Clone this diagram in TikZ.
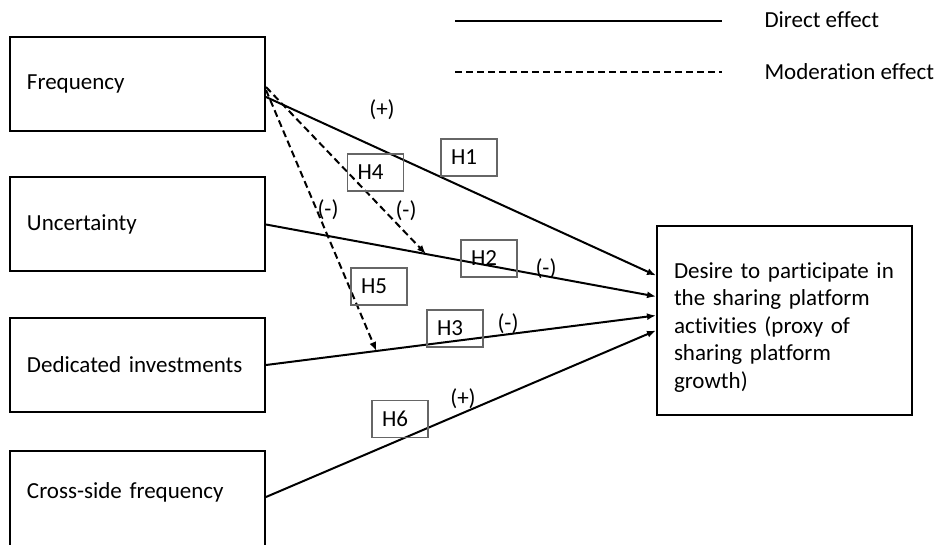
\documentclass[tikz,border=0pt]{standalone}
\usepackage{fontspec}
\setmainfont{Carlito}[Ligatures=CommonOff]
\usetikzlibrary{arrows.meta,calc}

\begin{document}
\begin{tikzpicture}[x=1pt,y=-1pt, every node/.style={font=\fontsize{23}{27.5}\selectfont},
    factor/.style={draw, line width=2pt, minimum width=255pt, minimum height=94pt, text width=221pt, inner xsep=17pt, align=left},
    outcome/.style={factor, minimum height=189pt},
    hyp/.style={draw=black!60, line width=1.3pt, minimum width=56pt, minimum height=37pt, text width=36pt, inner xsep=10pt, align=left},
    sign/.style={inner sep=1pt},
    direct/.style={line width=2pt, -{Latex[length=9pt,width=7pt]}},
    moder/.style={direct, dash pattern=on 7pt off 4pt}]
    \useasboundingbox (0,0) rectangle (935,545);
    \clip (0,0) rectangle (935,545);
    % legend
    \coordinate (dirA) at (455,21);
    \coordinate (dirB) at (722,21);
    \coordinate (modA) at (455,72);
    \coordinate (modB) at (722,72);
    \draw[line width=2pt] (dirA) -- (dirB);
    \draw[line width=2pt, dash pattern=on 7pt off 4pt] (modA) -- (modB);
    \node[anchor=west] (dirtxt) at (761,20) {Direct effect};
    \node[anchor=west] (modtxt) at (761,72) {Moderation effect};
    % constructs
    \node[factor] (freq) at (137.5,84) {Frequency};
    \node[factor] (unc) at (137.5,224.5) {Uncertainty};
    \node[factor] (dedic) at (137.5,365) {Dedicated investments};
    \node[factor, minimum height=100pt, text depth=20pt] (cross) at (137.5,501) {Cross-side frequency};
    \node[outcome] (desire) at (784.5,320.5) {\rule{0pt}{29pt}Desire to participate in\\the sharing platform\\activities (proxy of\\sharing platform\\growth)};
    % direct effects
    \draw[direct] ($(freq.east)+(0,13)$) -- ($(desire.west)+(0,-45)$);
    \draw[direct] (unc.east) -- coordinate[pos=0.41] (onunc) ($(desire.west)+(0,-24)$);
    \draw[direct] (dedic.east) -- coordinate[pos=0.283] (ondedic) ($(desire.west)+(0,-5)$);
    \draw[direct] ($(cross.east)+(0,-4)$) -- ($(desire.west)+(0,10)$);
    % moderation effects
    \draw[moder] ($(freq.east)+(0,3)$) -- (onunc);
    \draw[moder] ($(freq.east)+(0,6)$) -- (ondedic);
    % hypotheses
    \node[hyp] (h1) at (469,157.5) {H1};
    \node[hyp] (h4) at (375.5,172.5) {H4};
    \node[hyp] (h2) at (489,258.5) {H2};
    \node[hyp] (h5) at (379,286.5) {H5};
    \node[hyp] (h3) at (455,328.5) {H3};
    \node[hyp] (h6) at (400,419) {H6};
    % signs
    \node[sign] (s1) at (382,110) {(+)};
    \node[sign] (s4) at (406,211) {(-)};
    \node[sign] (s5) at (328,210) {(-)};
    \node[sign] (s2) at (546,269) {(-)};
    \node[sign] (s3) at (508,324) {(-)};
    \node[sign] (s6) at (463,399) {(+)};
\end{tikzpicture}
\end{document}
